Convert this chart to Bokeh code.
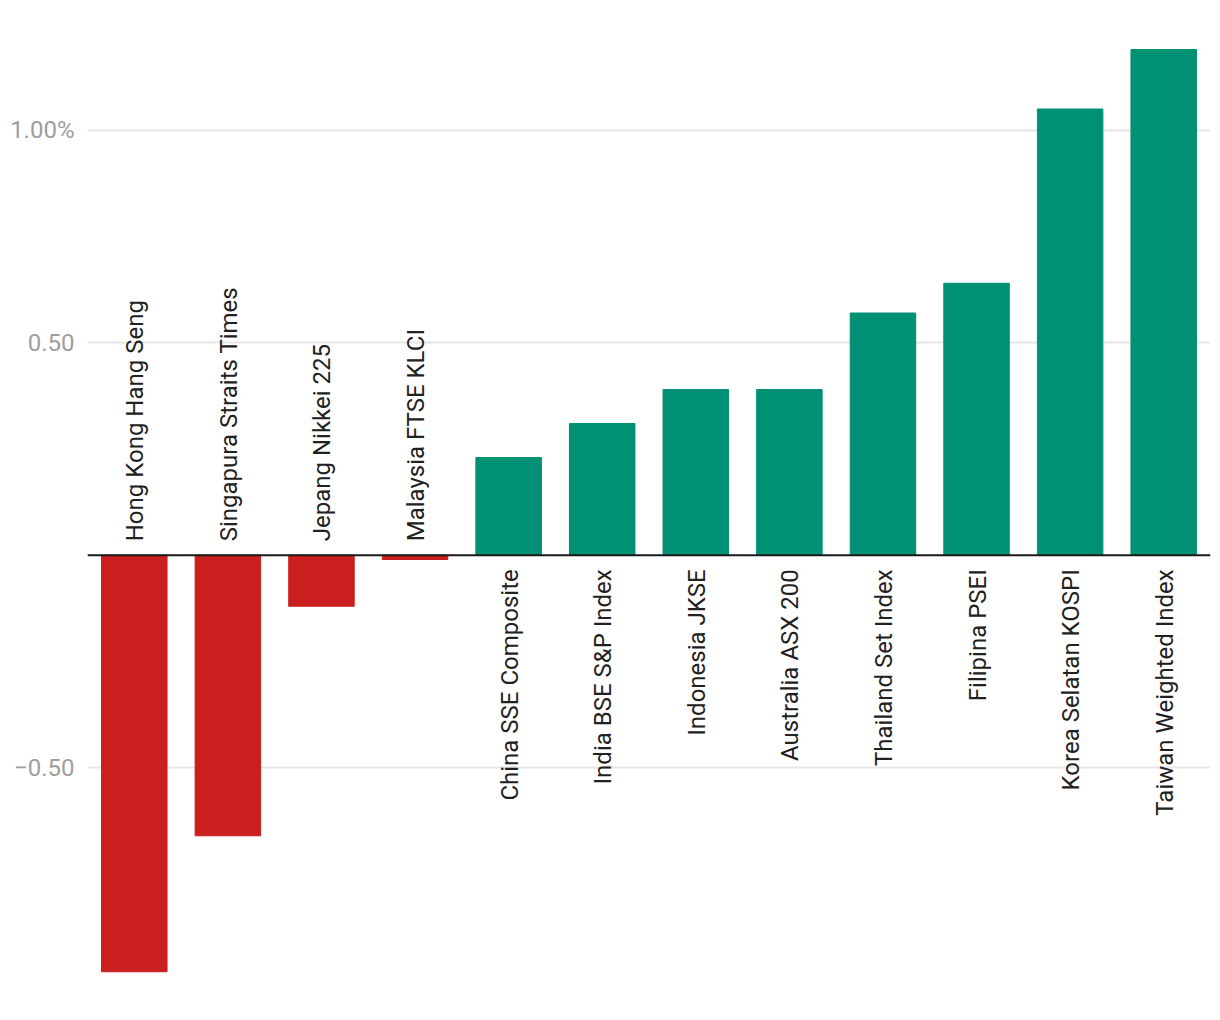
import math
from bokeh.plotting import figure
from bokeh.models import ColumnDataSource, FactorRange, Range1d, FixedTicker, Span
from bokeh.core.properties import value
from bokeh.embed import file_html
from bokeh.resources import INLINE

# ---- data ----
categories = [
    "Hong Kong Hang Seng", "Singapura Straits Times", "Jepang Nikkei 225",
    "Malaysia FTSE KLCI", "China SSE Composite", "India BSE S&P Index",
    "Indonesia JKSE", "Australia ASX 200", "Thailand Set Index",
    "Filipina PSEI", "Korea Selatan KOSPI", "Taiwan Weighted Index",
]
changes = [-0.98, -0.66, -0.12, -0.01, 0.23, 0.31, 0.39, 0.39, 0.57, 0.64, 1.05, 1.19]
tick_values = [-0.5, 0.5, 1.0]
tick_labels = ["\u22120.50", "0.50", "1.00%"]

NEG_COLOR = "#c91f1f"
POS_COLOR = "#009174"

colors = [NEG_COLOR if v < 0 else POS_COLOR for v in changes]
src = ColumnDataSource(dict(x=categories, top=changes, color=colors))

neg = [(c, v) for c, v in zip(categories, changes) if v < 0]
pos = [(c, v) for c, v in zip(categories, changes) if v >= 0]
neg_src = ColumnDataSource(dict(x=[c for c, _ in neg], y=[0] * len(neg), text=[c for c, _ in neg]))
pos_src = ColumnDataSource(dict(x=[c for c, _ in pos], y=[0] * len(pos), text=[c for c, _ in pos]))

p = figure(
    x_range=FactorRange(factors=categories, range_padding=0),
    y_range=Range1d(-1.05, 1.2606),
    frame_width=1123, frame_height=982,
    min_border_left=87, min_border_right=5, min_border_top=19, min_border_bottom=5,
    output_backend="svg", toolbar_location=None,
)
p.outline_line_color = None
p.background_fill_color = "white"
p.border_fill_color = "white"

p.xaxis.visible = False
p.xgrid.grid_line_color = None

ticker = FixedTicker(ticks=tick_values)
p.yaxis.ticker = ticker
p.yaxis.major_label_overrides = {v: l for v, l in zip(tick_values, tick_labels)}
p.yaxis.axis_line_color = None
p.yaxis.major_tick_line_color = None
p.yaxis.minor_tick_line_color = None
p.yaxis.major_tick_out = 0
p.yaxis.major_tick_in = 0
p.yaxis.major_label_standoff = 13
p.yaxis.major_label_text_font = "Roboto"
p.yaxis.major_label_text_font_size = "24px"
p.yaxis.major_label_text_color = "#9e9e9e"

p.ygrid.ticker = ticker
p.ygrid.grid_line_color = "#e6e6e6"
p.ygrid.grid_line_width = 2

p.vbar(x="x", top="top", bottom=0, width=0.7, color="color", source=src)

p.add_layout(Span(location=0, dimension="width", line_color="#1a1a1a", line_width=2))

common = dict(angle=math.pi / 2, text_font=value("Roboto"), text_font_size="24px",
              text_color="#212121", text_baseline="middle")
p.text(x="x", y="y", text="text", source=neg_src, text_align="left", y_offset=-14,
       x_offset=1, **common)
p.text(x="x", y="y", text="text", source=pos_src, text_align="right", y_offset=14,
       x_offset=1, **common)

open("out.html", "w").write(file_html(p, INLINE))
